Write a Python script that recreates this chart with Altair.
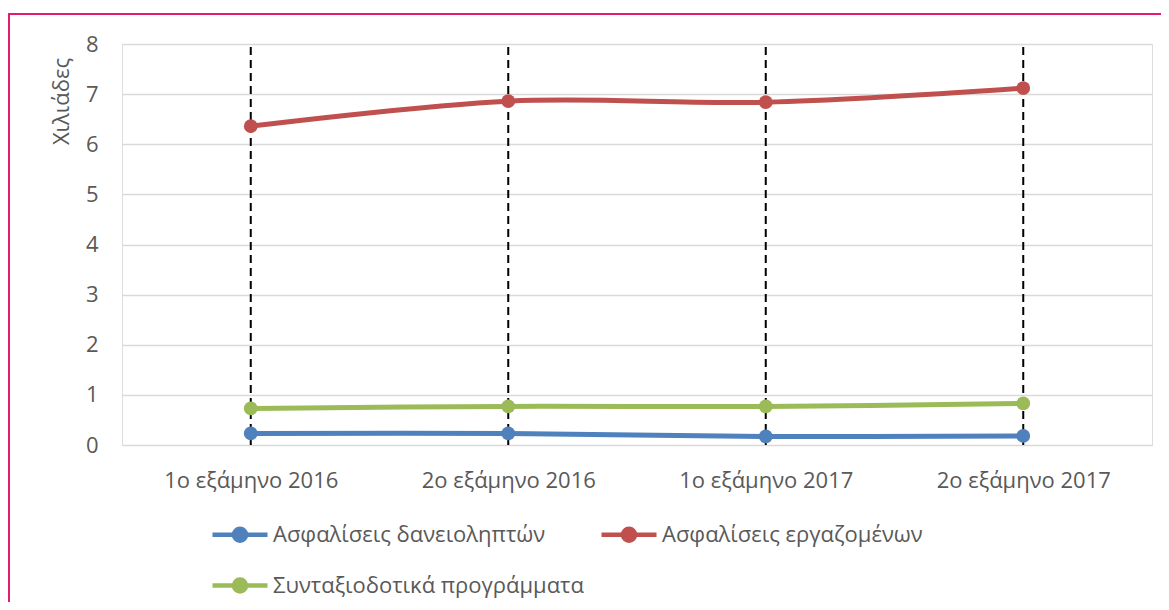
import altair as alt
import pandas as pd

periods = ["1ο εξάμηνο 2016", "2ο εξάμηνο 2016", "1ο εξάμηνο 2017", "2ο εξάμηνο 2017"]
series_names = ["Ασφαλίσεις δανειοληπτών", "Ασφαλίσεις εργαζομένων", "Συνταξιοδοτικά προγράμματα"]
borrowers = [0.23, 0.23, 0.17, 0.18]
employees = [6.36, 6.86, 6.84, 7.12]
pension = [0.73, 0.77, 0.77, 0.83]
colors = ["#4F81BD", "#C0504D", "#9BBB59"]
y_ticks = [0, 1, 2, 3, 4, 5, 6, 7, 8]

rows = []
for name, vals in zip(series_names, [borrowers, employees, pension]):
    for p, v in zip(periods, vals):
        rows.append({"period": p, "series": name, "value": v})
df = pd.DataFrame(rows)
df_periods = pd.DataFrame({"period": periods})

FONT = "Open Sans"
FS = 22
W, H = 1030, 401

xscale = alt.Scale(type="point", domain=periods, padding=0.5)
yscale = alt.Scale(domain=[0, 8])

x_enc = alt.X("period:N", scale=xscale, sort=periods,
              axis=alt.Axis(title=None, labelFontSize=FS, labelFont=FONT, labelColor="#595959",
                            labelPadding=25, domain=False, ticks=False, grid=False, labelAngle=0))
y_enc = alt.Y("value:Q", scale=yscale,
              axis=alt.Axis(values=y_ticks, title="Χιλιάδες", titleFont=FONT, titleFontSize=FS,
                            titleFontWeight="normal", titleColor="#595959", titleAngle=-90,
                            titleX=-61, titleY=57, titleAlign="center", titleBaseline="middle",
                            labelFontSize=FS, labelFont=FONT, labelColor="#595959", labelPadding=24,
                            domain=False, ticks=False, grid=True, gridColor="#D9D9D9", gridWidth=1.5))

sym = ("M-2.75,0L2.75,0"
       "M-0.6,0A0.6,0.6,0,1,1,0.6,0A0.6,0.6,0,1,1,-0.6,0Z"
       "M-0.3,0A0.3,0.3,0,1,1,0.3,0A0.3,0.3,0,1,1,-0.3,0Z"
       "M-0.1,0A0.1,0.1,0,1,1,0.1,0A0.1,0.1,0,1,1,-0.1,0Z")

base_grid = alt.Chart(df).mark_line(opacity=0).encode(x=x_enc, y=y_enc)

drops = alt.Chart(df_periods).mark_rule(color="black", strokeDash=[8, 5], strokeWidth=2).encode(
    x=alt.X("period:N", scale=xscale, sort=periods),
    y=alt.datum(0), y2=alt.datum(8))

lines = alt.Chart(df).mark_line(interpolate="cardinal", strokeWidth=5).encode(
    x=alt.X("period:N", scale=xscale, sort=periods),
    y=alt.Y("value:Q", scale=yscale),
    stroke=alt.Stroke("series:N", scale=alt.Scale(domain=series_names, range=colors),
                      legend=alt.Legend(orient="none", legendX=105.5, legendY=478, columns=2,
                                        direction="horizontal", title=None,
                                        symbolType=sym, symbolSize=400, symbolStrokeWidth=4.5,
                                        labelOffset=20.5, labelFontSize=FS, labelFont=FONT,
                                        labelColor="#595959", columnPadding=8, rowPadding=20,
                                        labelLimit=500)))

points = alt.Chart(df).mark_circle(size=190, opacity=1).encode(
    x=alt.X("period:N", scale=xscale, sort=periods),
    y=alt.Y("value:Q", scale=yscale),
    fill=alt.Fill("series:N", scale=alt.Scale(domain=series_names, range=colors), legend=None),
    color=alt.value(None))

border_top = alt.Chart(df_periods).mark_rule(color="#E31C6E", strokeWidth=2, clip=False).encode(
    x=alt.value(-114), x2=alt.value(1040), y=alt.value(-30))
border_left = alt.Chart(df_periods).mark_rule(color="#E31C6E", strokeWidth=2, clip=False).encode(
    x=alt.value(-113), y=alt.value(-31), y2=alt.value(560))

chart = alt.layer(base_grid, drops, lines, points, border_top, border_left).properties(
    width=W, height=H,
    autosize=alt.AutoSizeParams(type="none"),
    padding={"left": 114, "top": 36, "right": 9, "bottom": 157},
).configure_view(stroke=None).configure(background="white")

chart.save("out.html", embed_options={"renderer": "svg", "actions": False})
